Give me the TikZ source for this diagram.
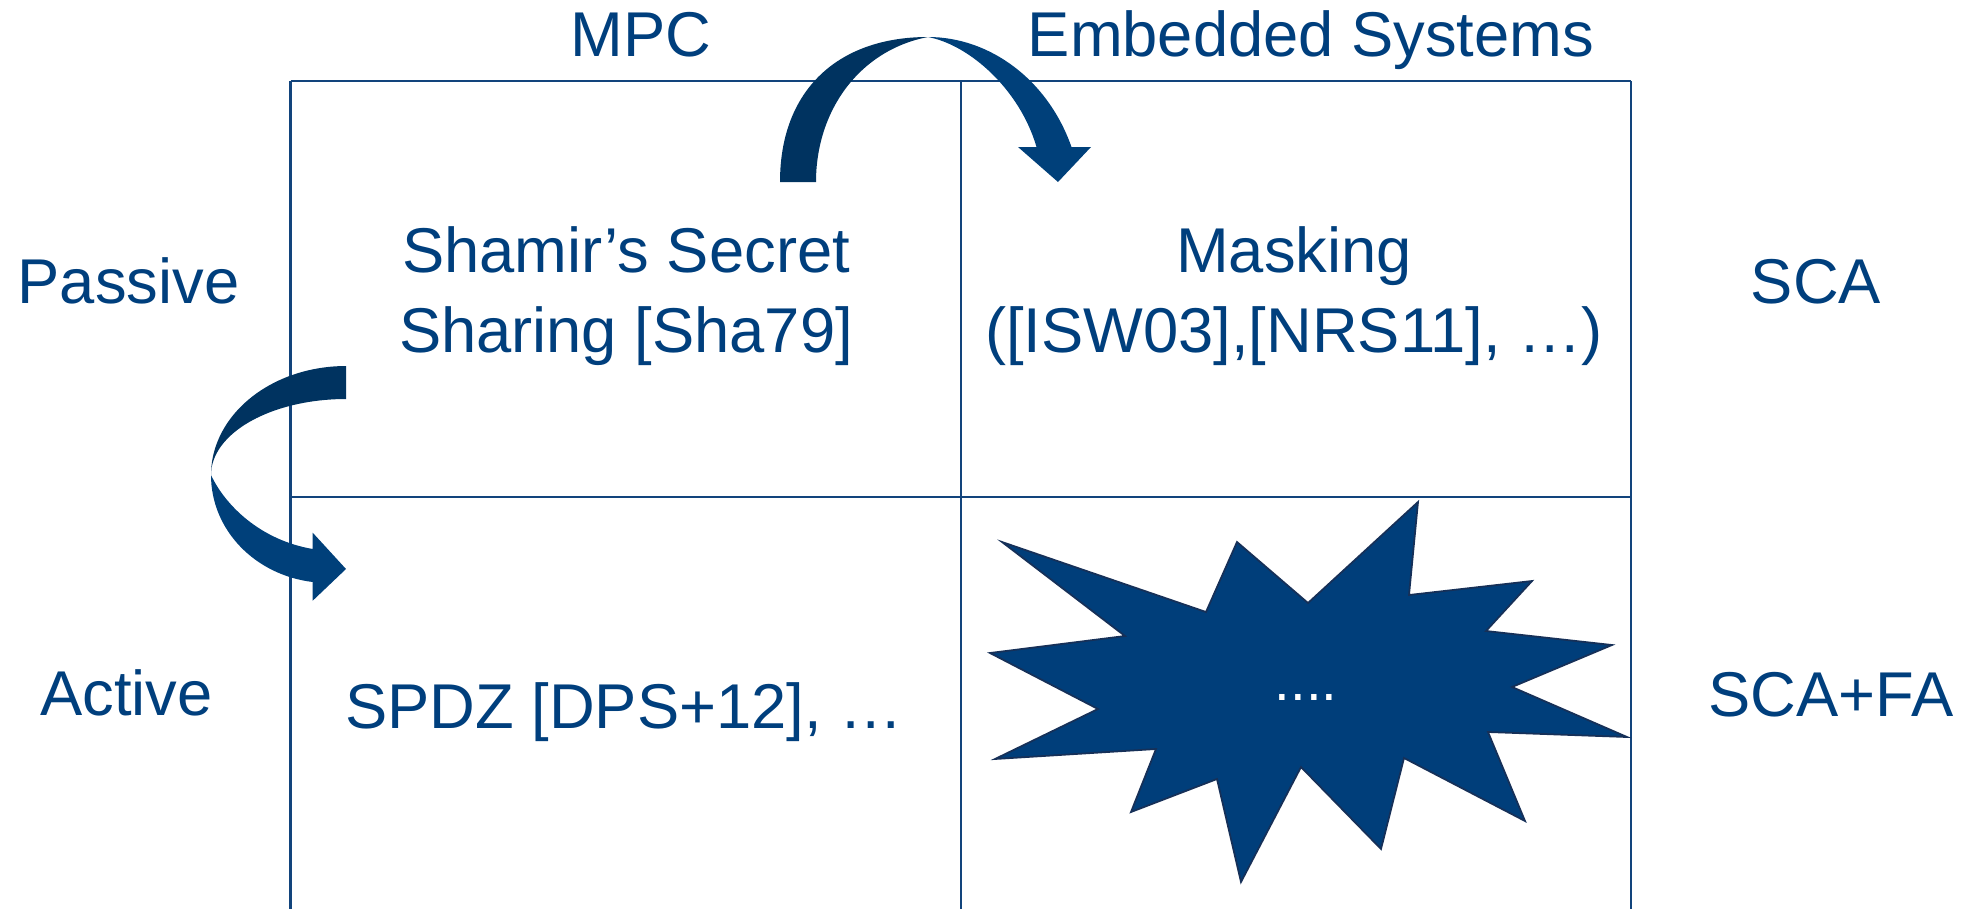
\documentclass[tikz,border=0pt]{standalone}
\usepackage{fontspec}
\setmainfont{Liberation Sans}
\definecolor{ink}{RGB}{0,63,125}
\definecolor{rule}{RGB}{18,68,124}
\definecolor{arrdark}{RGB}{0,51,96}
\definecolor{arrlight}{RGB}{0,64,122}
\definecolor{burst}{RGB}{0,62,122}
\definecolor{burstedge}{RGB}{22,48,88}

\begin{document}
\begin{tikzpicture}[x=0.01cm,y=-0.01cm,
  lbl/.style={text=ink,font=\fontsize{18}{22.5}\selectfont,inner sep=0pt,anchor=base,align=center},
  gridline/.style={draw=rule,line width=0.6pt},
  backpart/.style={fill=arrdark},
  frontpart/.style={fill=arrlight}]
\useasboundingbox (0,0) rectangle (1972,909);
\fill[white] (0,0) rectangle (1972,909);

% table rules
\coordinate (tl) at (290.5,81);
\coordinate (tm) at (961,81);
\coordinate (tr) at (1631,81);
\coordinate (ml) at (290.5,497);
\coordinate (mr) at (1631,497);
\coordinate (bl) at (290.5,909);
\coordinate (bm) at (961,909);
\coordinate (br) at (1631,909);
\draw[gridline] (tl) -- (tr);
\draw[gridline] (ml) -- (mr);
\draw[gridline] (tl) -- (bl);
\draw[gridline] (tm) -- (bm);
\draw[gridline] (tr) -- (br);

% column and row headings
\node[lbl] (mpc) at (641,57) {MPC};
\node[lbl] (emb) at (1311,57) {Embedded Systems};
\node[lbl] (passive) at (128.5,303) {Passive};
\node[lbl] (sca) at (1816,303) {SCA};
\node[lbl] (active) at (126.5,715) {Active};
\node[lbl] (scafa) at (1831,716) {SCA+FA};

% cell contents (base anchor sits on the last line)
\node[lbl] (shamir) at (626,352) {Shamir’s Secret\\Sharing [Sha79]};
\node[lbl] (masking) at (1294,352) {Masking\\([ISW03],[NRS11], …)};
\node[lbl] (spdz) at (624,728) {SPDZ [DPS+12], …};

% burst in the open cell
\fill[burst,draw=burstedge,line width=0.5pt,line join=miter]
  (1002,542) -- (1206,612) -- (1237,542) -- (1308,603) -- (1418,502)
  -- (1409,595) -- (1532,581) -- (1486,631) -- (1612,645) -- (1512,687)
  -- (1627,737) -- (1488,732) -- (1525,821) -- (1404,758) -- (1381,849)
  -- (1301,767) -- (1241,882) -- (1217,779) -- (1131,812) -- (1156,749)
  -- (995,759) -- (1098,709) -- (990,653) -- (1125,636) -- cycle;
\node[text=white,font=\fontsize{16}{19}\selectfont,inner sep=0pt,anchor=base] (dots) at (1306,700) {....};

% curved arrow across the top: MPC -> Embedded Systems
\fill[backpart] (780,182) .. controls (780,90) and (838,37) .. (928,37)
  .. controls (860,50) and (816,110) .. (816,182) -- cycle;
\fill[frontpart] (928,37) .. controls (990,37) and (1048,80) .. (1071.5,147)
  -- (1091,147) -- (1058,182) -- (1018,147) -- (1036.5,147)
  .. controls (1020,90) and (970,45) .. (928,37) -- cycle;

% curved arrow on the left: Passive -> Active
\fill[backpart] plot[domain=270:180,samples=40] ({346+135*cos(\x)},{475+109*sin(\x)})
  -- plot[domain=180:270,samples=40] ({346+135*cos(\x)},{475+76*sin(\x)}) -- cycle;
\fill[frontpart] (211,475) .. controls (211,530) and (255,575) .. (312.7,582)
  -- (312.7,600.7) -- (346,569) -- (312.7,532.7) -- (312.7,549)
  .. controls (260,540) and (225,505) .. (211,475) -- cycle;
\end{tikzpicture}
\end{document}
